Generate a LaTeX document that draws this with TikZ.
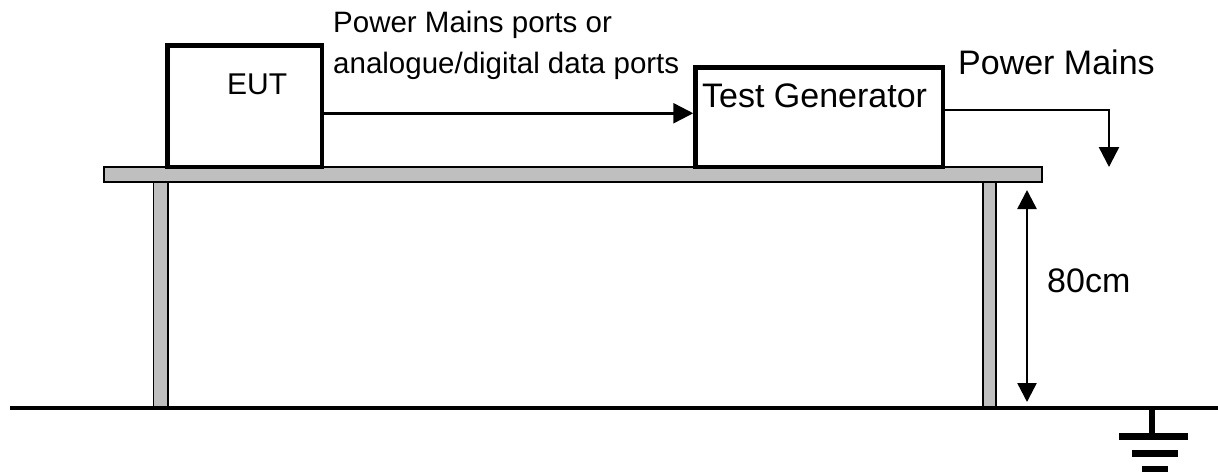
\documentclass[tikz,border=0pt]{standalone}
\usepackage{fontspec}
\setmainfont{Liberation Sans}
\usetikzlibrary{arrows.meta}
\tikzset{
  box/.style={draw=black, line width=4.5pt, fill=white, inner sep=0pt},
  wood/.style={draw=black, line width=1.5pt, fill=black!25},
  conn/.style={draw=black, line width=2.5pt, -{Triangle[length=20pt,width=20pt]}},
  dim/.style={draw=black, line width=2.5pt, {Triangle[length=19pt,width=19pt]}-{Triangle[length=19pt,width=19pt]}},
  lbl/.style={inner sep=0pt, anchor=base west},
  gnd/.style={line width=6.5pt, draw=black}
}
\newcommand{\fs}[1]{\fontsize{#1}{#1}\selectfont}
\begin{document}
\begin{tikzpicture}[x=1pt,y=-1pt]
\useasboundingbox (0,0) rectangle (1218,472);
% table
\draw[wood] (104,167) rectangle (1042,182);
\draw[wood] (153.5,182) rectangle (168,408);
\draw[wood] (983,182) rectangle (996,408);
% ground line
\draw[line width=4.5pt] (10,408) -- (1218,408);
% boxes
\node[box, minimum width=154.5pt, minimum height=121.5pt] (eut) at (244.75,106.25) {};
\node[lbl, font=\fs{30}] (eutl) at (227,94) {EUT};
\node[box, minimum width=247.5pt, minimum height=99.5pt] (tg) at (819.25,117.25) {};
\node[lbl, font=\fs{34}] (tgl) at (702,107) {Test Generator};
% labels
\node[lbl, font=\fs{29.5}] (pl1) at (333,32) {Power Mains ports or};
\node[lbl, font=\fs{29.5}] (pl2) at (333,73) {analogue/digital data ports};
\node[lbl, font=\fs{34}] (pm) at (958,74) {Power Mains};
\node[lbl, font=\fs{34}] (cm) at (1047,292) {80cm};
% connectors
\draw[conn] ([yshift=-7pt]eut.east) coordinate (a) -- (a -| tg.west);
\coordinate (pmend) at (1109,167);
\draw[conn] ([yshift=7.25pt]tg.east) coordinate (b) -- (b -| pmend) -- (pmend);
% dimension
\coordinate (d1) at (1027,190);
\coordinate (d2) at (1027,402);
\draw[dim] (d1) -- (d2);
% ground symbol
\coordinate (g0) at (1152,408);
\draw[line width=5.5pt] (g0) -- (1152,437);
\draw[gnd] (1119,436.7) -- (1188,436.7);
\draw[gnd] (1132,453.3) -- (1178,453.3);
\draw[gnd] (1142,469) -- (1168,469);
\end{tikzpicture}
\end{document}
